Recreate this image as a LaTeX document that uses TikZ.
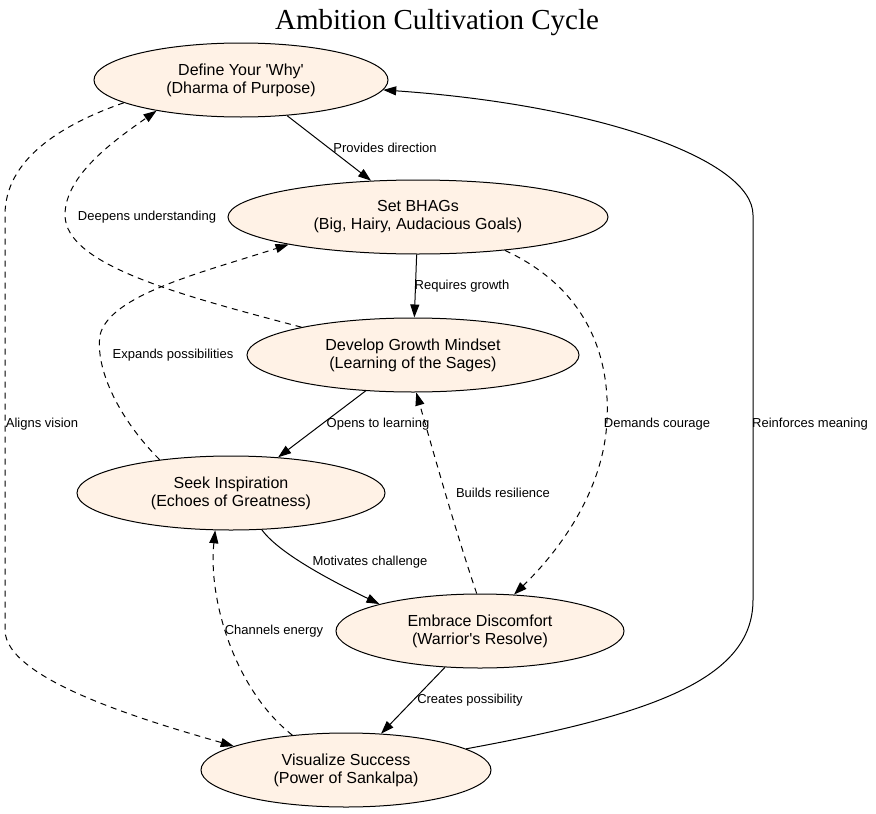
\documentclass[tikz,border=0pt]{standalone}
\usepackage{fontspec}
\setmainfont{Liberation Sans}
\newfontfamily\nodefont{Liberation Sans}
\newfontfamily\titlefont{Liberation Serif}
\usetikzlibrary{arrows.meta,shapes.geometric}
\definecolor{nodefill}{HTML}{FFF2E6}
\begin{document}
\begin{tikzpicture}[x=1pt,y=1pt,
  stage/.style={ellipse,draw,line width=1pt,fill=nodefill,inner sep=0pt,align=center,
    minimum height=74pt,font=\nodefont\fontsize{16}{18}\selectfont},
  flow/.style={line width=1pt,-{Triangle[length=13pt,width=9pt]}},
  fb/.style={flow,dash pattern=on 6pt off 5pt},
  lbl/.style={font=\nodefont\fontsize{13}{15}\selectfont,inner sep=0pt}]
\useasboundingbox (0,0) rectangle (876,-814);
\node[font=\titlefont\fontsize{29}{33}\selectfont] (title) at (437,-23) {Ambition Cultivation Cycle};

\node[stage,minimum width=294pt] (n1) at (241,-80) {Define Your 'Why'\\(Dharma of Purpose)};
\node[stage,minimum width=380pt] (n2) at (418,-217) {Set BHAGs\\(Big, Hairy, Audacious Goals)};
\node[stage,minimum width=332pt] (n3) at (413,-355) {Develop Growth Mindset\\(Learning of the Sages)};
\node[stage,minimum width=308pt] (n4) at (231,-493) {Seek Inspiration\\(Echoes of Greatness)};
\node[stage,minimum width=288pt] (n5) at (480,-631) {Embrace Discomfort\\(Warrior's Resolve)};
\node[stage,minimum width=290pt] (n6) at (346,-770) {Visualize Success\\(Power of Sankalpa)};

% solid edges
\draw[flow] (n1) -- (n2);
\draw[flow] (n2) -- (n3);
\draw[flow] (n3) -- (n4);
\draw[flow] (n4.-50) .. controls (280,-555) and (340,-585) .. (n5.165);
\draw[flow] (n5) -- (n6);
\draw[flow] (n6.10) .. controls (650,-715) and (753,-680) .. (753,-600) -- (753,-215)
  .. controls (753,-160) and (600,-105) .. (n1.-4);

% dashed edges
\draw[fb] (n3.166) .. controls (180,-295) and (65,-265) .. (65,-215)
  .. controls (65,-175) and (115,-140) .. (n1.-160);
\draw[fb] (n4.155) .. controls (120,-420) and (95,-370) .. (100,-335)
  .. controls (110,-295) and (200,-273) .. (n2.-168);
\draw[fb] (n5.95) .. controls (455,-530) and (430,-440) .. (n3.-85);
\draw[fb] (n2.-21) .. controls (590,-290) and (610,-360) .. (607,-420)
  .. controls (604,-490) and (560,-550) .. (n5.47);
\draw[fb] (n6.147) .. controls (235,-690) and (208,-600) .. (n4.-113);
\draw[fb] (n1.-169) .. controls (60,-125) and (5,-160) .. (5,-215) -- (5,-630)
  .. controls (5,-680) and (150,-722) .. (n6.168);

% labels
\node[lbl] (l1) at (385,-148) {Provides direction};
\node[lbl] (l2) at (462,-286) {Requires growth};
\node[lbl] (l3) at (378,-424) {Opens to learning};
\node[lbl] (l4) at (370,-562) {Motivates challenge};
\node[lbl] (l5) at (470,-700) {Creates possibility};
\node[lbl] (l6) at (810,-424) {Reinforces meaning};
\node[lbl] (l7) at (147,-217) {Deepens understanding};
\node[lbl] (l8) at (173,-355) {Expands possibilities};
\node[lbl] (l9) at (503,-493) {Builds resilience};
\node[lbl] (l10) at (657,-424) {Demands courage};
\node[lbl] (l11) at (274,-631) {Channels energy};
\node[lbl] (l12) at (42,-424) {Aligns vision};
\end{tikzpicture}
\end{document}
